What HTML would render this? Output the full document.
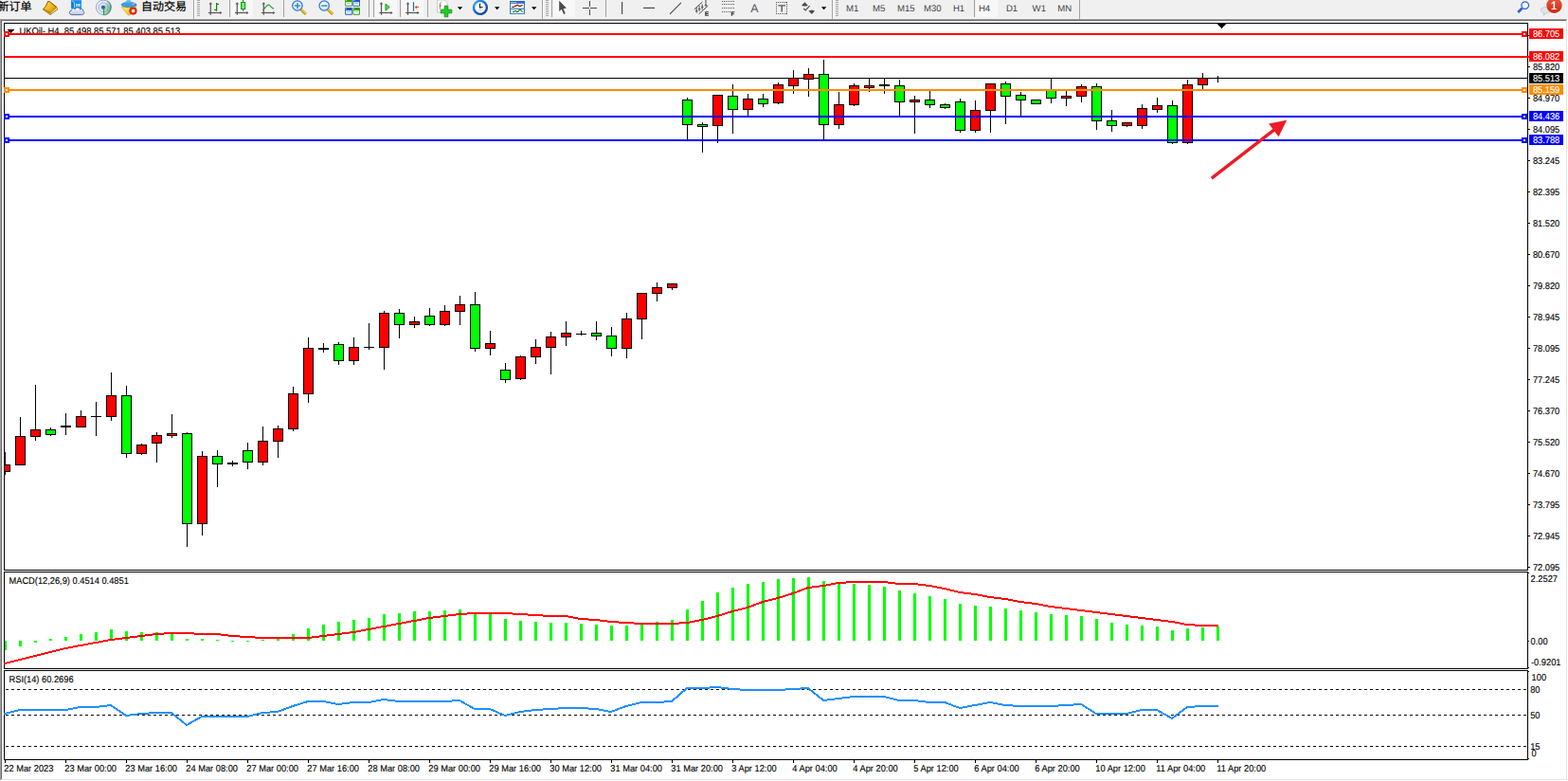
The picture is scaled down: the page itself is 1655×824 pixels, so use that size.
<!DOCTYPE html><html><head><meta charset="utf-8"><title>UKOil H4</title>
<style>html,body{margin:0;padding:0;background:#fff;overflow:hidden}body{width:1655px;height:824px;position:relative}svg{display:block;position:absolute;left:0;top:0}text{font-family:"Liberation Sans",sans-serif;white-space:pre;text-rendering:geometricPrecision}</style></head><body>
<svg width="1655" height="824" viewBox="0 0 1655 824">
<defs><pattern id="chk" width="2" height="2" patternUnits="userSpaceOnUse"><rect width="2" height="2" fill="#f0f0f0"/><rect width="1" height="1" fill="#fff"/><rect x="1" y="1" width="1" height="1" fill="#fff"/></pattern></defs>
<g shape-rendering="crispEdges">
<rect x="0" y="0" width="1655" height="824" fill="#fff" />
<rect x="0" y="0" width="1655" height="19" fill="#f0f0f0" />
<rect x="0" y="19" width="1655" height="1" fill="#f6f6f6" />
<rect x="0" y="20" width="1654" height="1" fill="#a0a0a0" />
<rect x="0" y="21" width="1653" height="1" fill="#696969" />
<rect x="0" y="20" width="1" height="803" fill="#a0a0a0" />
<rect x="1" y="21" width="1" height="801" fill="#696969" />
<rect x="1" y="822" width="1653" height="1" fill="#e3e3e3" />
<rect x="1653" y="21" width="1" height="802" fill="#e3e3e3" />
</g>
<g shape-rendering="crispEdges">
<rect x="4" y="24" width="1609" height="1" fill="#000" />
<rect x="4" y="601" width="1609" height="1" fill="#000" />
<rect x="4" y="24" width="1" height="578" fill="#000" />
<rect x="1612" y="24" width="1" height="578" fill="#000" />
<rect x="4" y="603" width="1609" height="1" fill="#000" />
<rect x="4" y="705" width="1609" height="1" fill="#000" />
<rect x="4" y="603" width="1" height="103" fill="#000" />
<rect x="1612" y="603" width="1" height="103" fill="#000" />
<rect x="4" y="707" width="1609" height="1" fill="#000" />
<rect x="4" y="801" width="1609" height="1" fill="#000" />
<rect x="4" y="707" width="1" height="95" fill="#000" />
<rect x="1612" y="707" width="1" height="95" fill="#000" />
<rect x="5" y="82" width="1607" height="1" fill="#000" />
<rect x="5" y="477" width="1" height="24" fill="#000" />
<rect x="5" y="490" width="6" height="8" fill="#000" />
<rect x="5" y="491" width="5" height="6" fill="#ff0000" />
<rect x="21" y="440" width="1" height="51" fill="#000" />
<rect x="16" y="460" width="11" height="31" fill="#000" />
<rect x="17" y="461" width="9" height="29" fill="#ff0000" />
<rect x="37" y="406" width="1" height="59" fill="#000" />
<rect x="32" y="453" width="11" height="8" fill="#000" />
<rect x="33" y="454" width="9" height="6" fill="#ff0000" />
<rect x="53" y="451" width="1" height="9" fill="#000" />
<rect x="48" y="453" width="11" height="6" fill="#000" />
<rect x="49" y="454" width="9" height="4" fill="#00ff00" />
<rect x="69" y="436" width="1" height="23" fill="#000" />
<rect x="64" y="449" width="11" height="2" fill="#000" />
<rect x="85" y="433" width="1" height="18" fill="#000" />
<rect x="80" y="439" width="11" height="12" fill="#000" />
<rect x="81" y="440" width="9" height="10" fill="#ff0000" />
<rect x="101" y="424" width="1" height="36" fill="#000" />
<rect x="96" y="439" width="11" height="1" fill="#000" />
<rect x="117" y="393" width="1" height="51" fill="#000" />
<rect x="112" y="417" width="11" height="23" fill="#000" />
<rect x="113" y="418" width="9" height="21" fill="#ff0000" />
<rect x="133" y="407" width="1" height="76" fill="#000" />
<rect x="128" y="417" width="11" height="62" fill="#000" />
<rect x="129" y="418" width="9" height="60" fill="#00ff00" />
<rect x="149" y="468" width="1" height="12" fill="#000" />
<rect x="144" y="469" width="11" height="10" fill="#000" />
<rect x="145" y="470" width="9" height="8" fill="#ff0000" />
<rect x="165" y="456" width="1" height="32" fill="#000" />
<rect x="160" y="459" width="11" height="9" fill="#000" />
<rect x="161" y="460" width="9" height="7" fill="#ff0000" />
<rect x="181" y="437" width="1" height="25" fill="#000" />
<rect x="176" y="457" width="11" height="3" fill="#000" />
<rect x="177" y="458" width="9" height="1" fill="#ff0000" />
<rect x="197" y="456" width="1" height="121" fill="#000" />
<rect x="192" y="457" width="11" height="96" fill="#000" />
<rect x="193" y="458" width="9" height="94" fill="#00ff00" />
<rect x="213" y="476" width="1" height="89" fill="#000" />
<rect x="208" y="481" width="11" height="72" fill="#000" />
<rect x="209" y="482" width="9" height="70" fill="#ff0000" />
<rect x="229" y="475" width="1" height="39" fill="#000" />
<rect x="224" y="481" width="11" height="9" fill="#000" />
<rect x="225" y="482" width="9" height="7" fill="#00ff00" />
<rect x="245" y="486" width="1" height="6" fill="#000" />
<rect x="240" y="488" width="11" height="2" fill="#000" />
<rect x="261" y="467" width="1" height="28" fill="#000" />
<rect x="256" y="475" width="11" height="13" fill="#000" />
<rect x="257" y="476" width="9" height="11" fill="#00ff00" />
<rect x="277" y="450" width="1" height="41" fill="#000" />
<rect x="272" y="465" width="11" height="23" fill="#000" />
<rect x="273" y="466" width="9" height="21" fill="#ff0000" />
<rect x="293" y="449" width="1" height="34" fill="#000" />
<rect x="288" y="452" width="11" height="14" fill="#000" />
<rect x="289" y="453" width="9" height="12" fill="#ff0000" />
<rect x="309" y="408" width="1" height="47" fill="#000" />
<rect x="304" y="415" width="11" height="38" fill="#000" />
<rect x="305" y="416" width="9" height="36" fill="#ff0000" />
<rect x="325" y="356" width="1" height="69" fill="#000" />
<rect x="320" y="367" width="11" height="49" fill="#000" />
<rect x="321" y="368" width="9" height="47" fill="#ff0000" />
<rect x="341" y="362" width="1" height="10" fill="#000" />
<rect x="336" y="367" width="11" height="2" fill="#000" />
<rect x="357" y="361" width="1" height="24" fill="#000" />
<rect x="352" y="363" width="11" height="18" fill="#000" />
<rect x="353" y="364" width="9" height="16" fill="#00ff00" />
<rect x="373" y="356" width="1" height="29" fill="#000" />
<rect x="368" y="366" width="11" height="15" fill="#000" />
<rect x="369" y="367" width="9" height="13" fill="#ff0000" />
<rect x="389" y="341" width="1" height="28" fill="#000" />
<rect x="384" y="366" width="11" height="1" fill="#000" />
<rect x="405" y="328" width="1" height="62" fill="#000" />
<rect x="400" y="330" width="11" height="37" fill="#000" />
<rect x="401" y="331" width="9" height="35" fill="#ff0000" />
<rect x="421" y="326" width="1" height="31" fill="#000" />
<rect x="416" y="330" width="11" height="13" fill="#000" />
<rect x="417" y="331" width="9" height="11" fill="#00ff00" />
<rect x="437" y="334" width="1" height="12" fill="#000" />
<rect x="432" y="339" width="11" height="4" fill="#000" />
<rect x="433" y="340" width="9" height="2" fill="#ff0000" />
<rect x="453" y="325" width="1" height="19" fill="#000" />
<rect x="448" y="333" width="11" height="10" fill="#000" />
<rect x="449" y="334" width="9" height="8" fill="#00ff00" />
<rect x="469" y="322" width="1" height="22" fill="#000" />
<rect x="464" y="328" width="11" height="15" fill="#000" />
<rect x="465" y="329" width="9" height="13" fill="#ff0000" />
<rect x="485" y="312" width="1" height="31" fill="#000" />
<rect x="480" y="321" width="11" height="8" fill="#000" />
<rect x="481" y="322" width="9" height="6" fill="#ff0000" />
<rect x="501" y="308" width="1" height="63" fill="#000" />
<rect x="496" y="321" width="11" height="47" fill="#000" />
<rect x="497" y="322" width="9" height="45" fill="#00ff00" />
<rect x="517" y="349" width="1" height="26" fill="#000" />
<rect x="512" y="362" width="11" height="6" fill="#000" />
<rect x="513" y="363" width="9" height="4" fill="#ff0000" />
<rect x="533" y="383" width="1" height="21" fill="#000" />
<rect x="528" y="390" width="11" height="11" fill="#000" />
<rect x="529" y="391" width="9" height="9" fill="#00ff00" />
<rect x="549" y="375" width="1" height="26" fill="#000" />
<rect x="544" y="376" width="11" height="24" fill="#000" />
<rect x="545" y="377" width="9" height="22" fill="#ff0000" />
<rect x="565" y="358" width="1" height="26" fill="#000" />
<rect x="560" y="366" width="11" height="11" fill="#000" />
<rect x="561" y="367" width="9" height="9" fill="#ff0000" />
<rect x="581" y="350" width="1" height="45" fill="#000" />
<rect x="576" y="355" width="11" height="12" fill="#000" />
<rect x="577" y="356" width="9" height="10" fill="#ff0000" />
<rect x="597" y="339" width="1" height="26" fill="#000" />
<rect x="592" y="351" width="11" height="5" fill="#000" />
<rect x="593" y="352" width="9" height="3" fill="#ff0000" />
<rect x="613" y="349" width="1" height="5" fill="#000" />
<rect x="608" y="352" width="11" height="1" fill="#000" />
<rect x="629" y="339" width="1" height="20" fill="#000" />
<rect x="624" y="351" width="11" height="4" fill="#000" />
<rect x="625" y="352" width="9" height="2" fill="#00ff00" />
<rect x="645" y="345" width="1" height="31" fill="#000" />
<rect x="640" y="354" width="11" height="14" fill="#000" />
<rect x="641" y="355" width="9" height="12" fill="#00ff00" />
<rect x="661" y="330" width="1" height="48" fill="#000" />
<rect x="656" y="336" width="11" height="32" fill="#000" />
<rect x="657" y="337" width="9" height="30" fill="#ff0000" />
<rect x="677" y="309" width="1" height="49" fill="#000" />
<rect x="672" y="309" width="11" height="28" fill="#000" />
<rect x="673" y="310" width="9" height="26" fill="#ff0000" />
<rect x="693" y="298" width="1" height="20" fill="#000" />
<rect x="688" y="303" width="11" height="7" fill="#000" />
<rect x="689" y="304" width="9" height="5" fill="#ff0000" />
<rect x="709" y="299" width="1" height="7" fill="#000" />
<rect x="704" y="299" width="11" height="5" fill="#000" />
<rect x="705" y="300" width="9" height="3" fill="#ff0000" />
<rect x="725" y="103" width="1" height="44" fill="#000" />
<rect x="720" y="105" width="11" height="27" fill="#000" />
<rect x="721" y="106" width="9" height="25" fill="#00ff00" />
<rect x="741" y="129" width="1" height="32" fill="#000" />
<rect x="736" y="131" width="11" height="3" fill="#000" />
<rect x="737" y="132" width="9" height="1" fill="#00ff00" />
<rect x="757" y="100" width="1" height="51" fill="#000" />
<rect x="752" y="100" width="11" height="33" fill="#000" />
<rect x="753" y="101" width="9" height="31" fill="#ff0000" />
<rect x="773" y="89" width="1" height="52" fill="#000" />
<rect x="768" y="101" width="11" height="15" fill="#000" />
<rect x="769" y="102" width="9" height="13" fill="#00ff00" />
<rect x="789" y="99" width="1" height="23" fill="#000" />
<rect x="784" y="104" width="11" height="12" fill="#000" />
<rect x="785" y="105" width="9" height="10" fill="#ff0000" />
<rect x="805" y="99" width="1" height="14" fill="#000" />
<rect x="800" y="104" width="11" height="6" fill="#000" />
<rect x="801" y="105" width="9" height="4" fill="#00ff00" />
<rect x="821" y="87" width="1" height="23" fill="#000" />
<rect x="816" y="89" width="11" height="20" fill="#000" />
<rect x="817" y="90" width="9" height="18" fill="#ff0000" />
<rect x="837" y="74" width="1" height="25" fill="#000" />
<rect x="832" y="82" width="11" height="9" fill="#000" />
<rect x="833" y="83" width="9" height="7" fill="#ff0000" />
<rect x="853" y="72" width="1" height="30" fill="#000" />
<rect x="848" y="78" width="11" height="6" fill="#000" />
<rect x="849" y="79" width="9" height="4" fill="#ff0000" />
<rect x="869" y="63" width="1" height="84" fill="#000" />
<rect x="864" y="78" width="11" height="54" fill="#000" />
<rect x="865" y="79" width="9" height="52" fill="#00ff00" />
<rect x="885" y="97" width="1" height="39" fill="#000" />
<rect x="880" y="110" width="11" height="22" fill="#000" />
<rect x="881" y="111" width="9" height="20" fill="#ff0000" />
<rect x="901" y="88" width="1" height="24" fill="#000" />
<rect x="896" y="90" width="11" height="21" fill="#000" />
<rect x="897" y="91" width="9" height="19" fill="#ff0000" />
<rect x="917" y="83" width="1" height="14" fill="#000" />
<rect x="912" y="90" width="11" height="3" fill="#000" />
<rect x="913" y="91" width="9" height="1" fill="#ff0000" />
<rect x="933" y="83" width="1" height="16" fill="#000" />
<rect x="928" y="89" width="11" height="2" fill="#000" />
<rect x="949" y="84" width="1" height="38" fill="#000" />
<rect x="944" y="90" width="11" height="18" fill="#000" />
<rect x="945" y="91" width="9" height="16" fill="#00ff00" />
<rect x="965" y="101" width="1" height="40" fill="#000" />
<rect x="960" y="105" width="11" height="3" fill="#000" />
<rect x="961" y="106" width="9" height="1" fill="#ff0000" />
<rect x="981" y="96" width="1" height="18" fill="#000" />
<rect x="976" y="105" width="11" height="6" fill="#000" />
<rect x="977" y="106" width="9" height="4" fill="#00ff00" />
<rect x="997" y="109" width="1" height="6" fill="#000" />
<rect x="992" y="110" width="11" height="4" fill="#000" />
<rect x="993" y="111" width="9" height="2" fill="#00ff00" />
<rect x="1013" y="104" width="1" height="36" fill="#000" />
<rect x="1008" y="107" width="11" height="31" fill="#000" />
<rect x="1009" y="108" width="9" height="29" fill="#00ff00" />
<rect x="1029" y="106" width="1" height="34" fill="#000" />
<rect x="1024" y="116" width="11" height="22" fill="#000" />
<rect x="1025" y="117" width="9" height="20" fill="#ff0000" />
<rect x="1045" y="88" width="1" height="52" fill="#000" />
<rect x="1040" y="88" width="11" height="29" fill="#000" />
<rect x="1041" y="89" width="9" height="27" fill="#ff0000" />
<rect x="1061" y="86" width="1" height="45" fill="#000" />
<rect x="1056" y="88" width="11" height="14" fill="#000" />
<rect x="1057" y="89" width="9" height="12" fill="#00ff00" />
<rect x="1077" y="97" width="1" height="25" fill="#000" />
<rect x="1072" y="100" width="11" height="6" fill="#000" />
<rect x="1073" y="101" width="9" height="4" fill="#00ff00" />
<rect x="1093" y="105" width="1" height="5" fill="#000" />
<rect x="1088" y="105" width="11" height="5" fill="#000" />
<rect x="1089" y="106" width="9" height="3" fill="#00ff00" />
<rect x="1109" y="83" width="1" height="26" fill="#000" />
<rect x="1104" y="94" width="11" height="10" fill="#000" />
<rect x="1105" y="95" width="9" height="8" fill="#00ff00" />
<rect x="1125" y="96" width="1" height="16" fill="#000" />
<rect x="1120" y="101" width="11" height="3" fill="#000" />
<rect x="1121" y="102" width="9" height="1" fill="#ff0000" />
<rect x="1141" y="89" width="1" height="19" fill="#000" />
<rect x="1136" y="91" width="11" height="11" fill="#000" />
<rect x="1137" y="92" width="9" height="9" fill="#ff0000" />
<rect x="1157" y="88" width="1" height="49" fill="#000" />
<rect x="1152" y="91" width="11" height="37" fill="#000" />
<rect x="1153" y="92" width="9" height="35" fill="#00ff00" />
<rect x="1173" y="116" width="1" height="23" fill="#000" />
<rect x="1168" y="127" width="11" height="6" fill="#000" />
<rect x="1169" y="128" width="9" height="4" fill="#00ff00" />
<rect x="1189" y="129" width="1" height="5" fill="#000" />
<rect x="1184" y="129" width="11" height="4" fill="#000" />
<rect x="1185" y="130" width="9" height="2" fill="#ff0000" />
<rect x="1205" y="110" width="1" height="26" fill="#000" />
<rect x="1200" y="114" width="11" height="19" fill="#000" />
<rect x="1201" y="115" width="9" height="17" fill="#ff0000" />
<rect x="1221" y="103" width="1" height="16" fill="#000" />
<rect x="1216" y="111" width="11" height="5" fill="#000" />
<rect x="1217" y="112" width="9" height="3" fill="#ff0000" />
<rect x="1237" y="106" width="1" height="46" fill="#000" />
<rect x="1232" y="111" width="11" height="40" fill="#000" />
<rect x="1233" y="112" width="9" height="38" fill="#00ff00" />
<rect x="1253" y="84" width="1" height="68" fill="#000" />
<rect x="1248" y="89" width="11" height="62" fill="#000" />
<rect x="1249" y="90" width="9" height="60" fill="#ff0000" />
<rect x="1269" y="77" width="1" height="17" fill="#000" />
<rect x="1264" y="82" width="11" height="8" fill="#000" />
<rect x="1265" y="83" width="9" height="6" fill="#ff0000" />
<rect x="1285" y="80" width="1" height="7" fill="#000" />
</g>
<g shape-rendering="crispEdges" fill="#000"><rect x="8" y="31" width="7" height="1"/><rect x="9" y="32" width="5" height="1"/><rect x="10" y="33" width="3" height="1"/><rect x="11" y="34" width="1" height="1"/></g>
<text transform="translate(20.4,36) scale(0.949,1)" font-size="9.9" fill="#000" stroke="#000" stroke-width="0.12" text-anchor="start" >UKOil-,H4  85.498 85.571 85.403 85.513</text>
<g shape-rendering="crispEdges">
<rect x="5" y="35" width="1607" height="2" fill="#ff0000" />
<rect x="4" y="33" width="6" height="6" fill="#ff0000" />
<rect x="6" y="35" width="2" height="2" fill="#fff" />
<rect x="1606" y="33" width="6" height="6" fill="#ff0000" />
<rect x="1608" y="35" width="2" height="2" fill="#fff" />
<rect x="5" y="59" width="1609" height="2" fill="#ff0000" />
<rect x="5" y="94" width="1607" height="2" fill="#ff8c00" />
<rect x="4" y="92" width="6" height="6" fill="#ff8c00" />
<rect x="6" y="94" width="2" height="2" fill="#fff" />
<rect x="1606" y="92" width="6" height="6" fill="#ff8c00" />
<rect x="1608" y="94" width="2" height="2" fill="#fff" />
<rect x="5" y="122" width="1607" height="2" fill="#0000ff" />
<rect x="4" y="120" width="6" height="6" fill="#0000ff" />
<rect x="6" y="122" width="2" height="2" fill="#fff" />
<rect x="1606" y="120" width="6" height="6" fill="#0000ff" />
<rect x="1608" y="122" width="2" height="2" fill="#fff" />
<rect x="5" y="147" width="1607" height="2" fill="#0000ff" />
<rect x="4" y="145" width="6" height="6" fill="#0000ff" />
<rect x="6" y="147" width="2" height="2" fill="#fff" />
<rect x="1606" y="145" width="6" height="6" fill="#0000ff" />
<rect x="1608" y="147" width="2" height="2" fill="#fff" />
</g>
<g fill="#ed1c24" stroke="none"><path d="M1277.76,186.86 L1343.31,136.0 L1339.1,130.4 L1358.2,126.7 L1349.6,144.3 L1345.39,138.69 L1279.84,189.55 Z"/></g>
<g shape-rendering="crispEdges" fill="#000"><rect x="1285" y="25" width="9" height="1"/><rect x="1286" y="26" width="7" height="1"/><rect x="1287" y="27" width="5" height="1"/><rect x="1288" y="28" width="3" height="1"/><rect x="1289" y="29" width="1" height="1"/></g>
<g shape-rendering="crispEdges">
<rect x="1613" y="37" width="2" height="1" fill="#000" />
<rect x="1613" y="70" width="2" height="1" fill="#000" />
<rect x="1613" y="103" width="2" height="1" fill="#000" />
<rect x="1613" y="136" width="2" height="1" fill="#000" />
<rect x="1613" y="169" width="2" height="1" fill="#000" />
<rect x="1613" y="202" width="2" height="1" fill="#000" />
<rect x="1613" y="235" width="2" height="1" fill="#000" />
<rect x="1613" y="268" width="2" height="1" fill="#000" />
<rect x="1613" y="301" width="2" height="1" fill="#000" />
<rect x="1613" y="334" width="2" height="1" fill="#000" />
<rect x="1613" y="367" width="2" height="1" fill="#000" />
<rect x="1613" y="400" width="2" height="1" fill="#000" />
<rect x="1613" y="433" width="2" height="1" fill="#000" />
<rect x="1613" y="466" width="2" height="1" fill="#000" />
<rect x="1613" y="499" width="2" height="1" fill="#000" />
<rect x="1613" y="532" width="2" height="1" fill="#000" />
<rect x="1613" y="565" width="2" height="1" fill="#000" />
<rect x="1613" y="598" width="2" height="1" fill="#000" />
</g>
<text transform="translate(1617.9,74) scale(0.939,1)" font-size="9.9" fill="#000" stroke="#000" stroke-width="0.12" text-anchor="start" >85.820</text>
<text transform="translate(1617.9,107) scale(0.939,1)" font-size="9.9" fill="#000" stroke="#000" stroke-width="0.12" text-anchor="start" >84.970</text>
<text transform="translate(1617.9,140) scale(0.939,1)" font-size="9.9" fill="#000" stroke="#000" stroke-width="0.12" text-anchor="start" >84.095</text>
<text transform="translate(1617.9,173) scale(0.939,1)" font-size="9.9" fill="#000" stroke="#000" stroke-width="0.12" text-anchor="start" >83.245</text>
<text transform="translate(1617.9,206) scale(0.939,1)" font-size="9.9" fill="#000" stroke="#000" stroke-width="0.12" text-anchor="start" >82.395</text>
<text transform="translate(1617.9,239) scale(0.939,1)" font-size="9.9" fill="#000" stroke="#000" stroke-width="0.12" text-anchor="start" >81.520</text>
<text transform="translate(1617.9,272) scale(0.939,1)" font-size="9.9" fill="#000" stroke="#000" stroke-width="0.12" text-anchor="start" >80.670</text>
<text transform="translate(1617.9,305) scale(0.939,1)" font-size="9.9" fill="#000" stroke="#000" stroke-width="0.12" text-anchor="start" >79.820</text>
<text transform="translate(1617.9,338) scale(0.939,1)" font-size="9.9" fill="#000" stroke="#000" stroke-width="0.12" text-anchor="start" >78.945</text>
<text transform="translate(1617.9,371) scale(0.939,1)" font-size="9.9" fill="#000" stroke="#000" stroke-width="0.12" text-anchor="start" >78.095</text>
<text transform="translate(1617.9,404) scale(0.939,1)" font-size="9.9" fill="#000" stroke="#000" stroke-width="0.12" text-anchor="start" >77.245</text>
<text transform="translate(1617.9,437) scale(0.939,1)" font-size="9.9" fill="#000" stroke="#000" stroke-width="0.12" text-anchor="start" >76.370</text>
<text transform="translate(1617.9,470) scale(0.939,1)" font-size="9.9" fill="#000" stroke="#000" stroke-width="0.12" text-anchor="start" >75.520</text>
<text transform="translate(1617.9,503) scale(0.939,1)" font-size="9.9" fill="#000" stroke="#000" stroke-width="0.12" text-anchor="start" >74.670</text>
<text transform="translate(1617.9,536) scale(0.939,1)" font-size="9.9" fill="#000" stroke="#000" stroke-width="0.12" text-anchor="start" >73.795</text>
<text transform="translate(1617.9,569) scale(0.939,1)" font-size="9.9" fill="#000" stroke="#000" stroke-width="0.12" text-anchor="start" >72.945</text>
<text transform="translate(1617.9,602) scale(0.939,1)" font-size="9.9" fill="#000" stroke="#000" stroke-width="0.12" text-anchor="start" >72.095</text>
<g shape-rendering="crispEdges">
<rect x="1614" y="30" width="36" height="11" fill="#ff0000" />
<rect x="1614" y="54" width="36" height="11" fill="#ff0000" />
<rect x="1614" y="77" width="36" height="11" fill="#000" />
<rect x="1614" y="89" width="36" height="11" fill="#ff8c00" />
<rect x="1614" y="117" width="36" height="11" fill="#0000ff" />
<rect x="1614" y="142" width="36" height="11" fill="#0000ff" />
</g>
<text transform="translate(1617.9,39) scale(0.939,1)" font-size="9.9" fill="#fff" stroke="#fff" stroke-width="0.12" text-anchor="start" >86.705</text>
<text transform="translate(1617.9,63) scale(0.939,1)" font-size="9.9" fill="#fff" stroke="#fff" stroke-width="0.12" text-anchor="start" >86.082</text>
<text transform="translate(1617.9,86) scale(0.939,1)" font-size="9.9" fill="#fff" stroke="#fff" stroke-width="0.12" text-anchor="start" >85.513</text>
<text transform="translate(1617.9,98) scale(0.939,1)" font-size="9.9" fill="#fff" stroke="#fff" stroke-width="0.12" text-anchor="start" >85.159</text>
<text transform="translate(1617.9,126) scale(0.939,1)" font-size="9.9" fill="#fff" stroke="#fff" stroke-width="0.12" text-anchor="start" >84.436</text>
<text transform="translate(1617.9,151) scale(0.939,1)" font-size="9.9" fill="#fff" stroke="#fff" stroke-width="0.12" text-anchor="start" >83.788</text>
<g shape-rendering="crispEdges">
<rect x="5" y="676" width="2" height="10" fill="#00ff00" />
<rect x="20" y="676" width="3" height="6" fill="#00ff00" />
<rect x="36" y="676" width="3" height="2" fill="#00ff00" />
<rect x="52" y="674" width="3" height="2" fill="#00ff00" />
<rect x="68" y="672" width="3" height="4" fill="#00ff00" />
<rect x="84" y="669" width="3" height="7" fill="#00ff00" />
<rect x="100" y="667" width="3" height="9" fill="#00ff00" />
<rect x="116" y="664" width="3" height="12" fill="#00ff00" />
<rect x="132" y="666" width="3" height="10" fill="#00ff00" />
<rect x="148" y="667" width="3" height="9" fill="#00ff00" />
<rect x="164" y="667" width="3" height="9" fill="#00ff00" />
<rect x="180" y="667" width="3" height="9" fill="#00ff00" />
<rect x="196" y="674" width="3" height="2" fill="#00ff00" />
<rect x="212" y="674" width="3" height="2" fill="#00ff00" />
<rect x="228" y="675" width="3" height="1" fill="#00ff00" />
<rect x="244" y="676" width="3" height="1" fill="#00ff00" />
<rect x="260" y="676" width="3" height="1" fill="#00ff00" />
<rect x="276" y="675" width="3" height="1" fill="#00ff00" />
<rect x="292" y="673" width="3" height="3" fill="#00ff00" />
<rect x="308" y="669" width="3" height="7" fill="#00ff00" />
<rect x="324" y="663" width="3" height="13" fill="#00ff00" />
<rect x="340" y="659" width="3" height="17" fill="#00ff00" />
<rect x="356" y="656" width="3" height="20" fill="#00ff00" />
<rect x="372" y="654" width="3" height="22" fill="#00ff00" />
<rect x="388" y="652" width="3" height="24" fill="#00ff00" />
<rect x="404" y="648" width="3" height="28" fill="#00ff00" />
<rect x="420" y="647" width="3" height="29" fill="#00ff00" />
<rect x="436" y="645" width="3" height="31" fill="#00ff00" />
<rect x="452" y="645" width="3" height="31" fill="#00ff00" />
<rect x="468" y="644" width="3" height="32" fill="#00ff00" />
<rect x="484" y="643" width="3" height="33" fill="#00ff00" />
<rect x="500" y="646" width="3" height="30" fill="#00ff00" />
<rect x="516" y="648" width="3" height="28" fill="#00ff00" />
<rect x="532" y="653" width="3" height="23" fill="#00ff00" />
<rect x="548" y="655" width="3" height="21" fill="#00ff00" />
<rect x="564" y="656" width="3" height="20" fill="#00ff00" />
<rect x="580" y="657" width="3" height="19" fill="#00ff00" />
<rect x="596" y="657" width="3" height="19" fill="#00ff00" />
<rect x="612" y="658" width="3" height="18" fill="#00ff00" />
<rect x="628" y="659" width="3" height="17" fill="#00ff00" />
<rect x="644" y="660" width="3" height="16" fill="#00ff00" />
<rect x="660" y="660" width="3" height="16" fill="#00ff00" />
<rect x="676" y="658" width="3" height="18" fill="#00ff00" />
<rect x="692" y="656" width="3" height="20" fill="#00ff00" />
<rect x="708" y="654" width="3" height="22" fill="#00ff00" />
<rect x="724" y="643" width="3" height="33" fill="#00ff00" />
<rect x="740" y="634" width="3" height="42" fill="#00ff00" />
<rect x="756" y="625" width="3" height="51" fill="#00ff00" />
<rect x="772" y="620" width="3" height="56" fill="#00ff00" />
<rect x="788" y="616" width="3" height="60" fill="#00ff00" />
<rect x="804" y="614" width="3" height="62" fill="#00ff00" />
<rect x="820" y="611" width="3" height="65" fill="#00ff00" />
<rect x="836" y="610" width="3" height="66" fill="#00ff00" />
<rect x="852" y="609" width="3" height="67" fill="#00ff00" />
<rect x="868" y="613" width="3" height="63" fill="#00ff00" />
<rect x="884" y="615" width="3" height="61" fill="#00ff00" />
<rect x="900" y="616" width="3" height="60" fill="#00ff00" />
<rect x="916" y="617" width="3" height="59" fill="#00ff00" />
<rect x="932" y="619" width="3" height="57" fill="#00ff00" />
<rect x="948" y="623" width="3" height="53" fill="#00ff00" />
<rect x="964" y="626" width="3" height="50" fill="#00ff00" />
<rect x="980" y="629" width="3" height="47" fill="#00ff00" />
<rect x="996" y="632" width="3" height="44" fill="#00ff00" />
<rect x="1012" y="637" width="3" height="39" fill="#00ff00" />
<rect x="1028" y="639" width="3" height="37" fill="#00ff00" />
<rect x="1044" y="640" width="3" height="36" fill="#00ff00" />
<rect x="1060" y="642" width="3" height="34" fill="#00ff00" />
<rect x="1076" y="644" width="3" height="32" fill="#00ff00" />
<rect x="1092" y="646" width="3" height="30" fill="#00ff00" />
<rect x="1108" y="648" width="3" height="28" fill="#00ff00" />
<rect x="1124" y="649" width="3" height="27" fill="#00ff00" />
<rect x="1140" y="650" width="3" height="26" fill="#00ff00" />
<rect x="1156" y="653" width="3" height="23" fill="#00ff00" />
<rect x="1172" y="657" width="3" height="19" fill="#00ff00" />
<rect x="1188" y="659" width="3" height="17" fill="#00ff00" />
<rect x="1204" y="660" width="3" height="16" fill="#00ff00" />
<rect x="1220" y="661" width="3" height="15" fill="#00ff00" />
<rect x="1236" y="665" width="3" height="11" fill="#00ff00" />
<rect x="1252" y="663" width="3" height="13" fill="#00ff00" />
<rect x="1268" y="662" width="3" height="14" fill="#00ff00" />
<rect x="1284" y="661" width="3" height="15" fill="#00ff00" />
<rect x="1613" y="604" width="1" height="1" fill="#000" />
<rect x="1613" y="676" width="1" height="1" fill="#000" />
<rect x="1613" y="704" width="1" height="1" fill="#000" />
</g>
<polyline points="5,700 21,696 37,692 53,688 69,684 85,681 101,678 117,675 133,673 149,671 165,669 181,668 197,668 213,669 229,669 245,671 261,672 277,673 293,673 309,673 325,673 341,671 357,669 373,667 389,664 405,661 421,658 437,655 453,652 469,650 485,648 501,647 517,647 533,647 549,648 565,649 581,650 597,650 613,653 629,654 645,656 661,657 677,658 693,658 709,658 725,657 741,654 757,650 773,645 789,641 805,635 821,631 837,626 853,620 869,618 885,615 901,614 917,614 933,614 949,616 965,616 981,618 997,621 1013,625 1029,627 1045,630 1061,632 1077,635 1093,637 1109,640 1125,642 1141,644 1157,646 1173,648 1189,650 1205,652 1221,654 1237,656 1253,659 1269,660 1285,660" fill="none" stroke="#ff0000" stroke-width="2" stroke-linejoin="round" stroke-linecap="square" shape-rendering="crispEdges"/>
<text transform="translate(9.5,616) scale(0.939,1)" font-size="9.9" fill="#000" stroke="#000" stroke-width="0.12" text-anchor="start" >MACD(12,26,9) 0.4514 0.4851</text>
<text transform="translate(1615.6,614) scale(0.939,1)" font-size="9.9" fill="#000" stroke="#000" stroke-width="0.12" text-anchor="start" >2.2527</text>
<text transform="translate(1615.6,680) scale(0.939,1)" font-size="9.9" fill="#000" stroke="#000" stroke-width="0.12" text-anchor="start" >0.00</text>
<text transform="translate(1616,702) scale(0.939,1)" font-size="9.9" fill="#000" stroke="#000" stroke-width="0.12" text-anchor="start" >-0.9201</text>
<g shape-rendering="crispEdges">
<line x1="6" y1="727.5" x2="1612" y2="727.5" stroke="#000" stroke-width="1" stroke-dasharray="3 3"/>
<line x1="6" y1="754.5" x2="1612" y2="754.5" stroke="#000" stroke-width="1" stroke-dasharray="3 3"/>
<line x1="6" y1="787.5" x2="1612" y2="787.5" stroke="#000" stroke-width="1" stroke-dasharray="3 3"/>
<rect x="1613" y="708" width="1" height="1" fill="#000" />
<rect x="1613" y="800" width="1" height="1" fill="#000" />
</g>
<polyline points="5,753 21,749 37,749 53,749 69,749 85,746 101,746 117,744 133,755 149,753 165,752 181,752 197,765 213,756 229,756 245,756 261,756 277,752 293,751 309,745 325,740 341,740 357,743 373,741 389,741 405,738 421,740 437,740 453,740 469,740 485,739 501,748 517,748 533,755 549,751 565,749 581,748 597,747 613,747 629,748 645,751 661,745 677,741 693,741 709,740 725,726 741,726 757,725 773,727 789,728 805,728 821,728 837,727 853,726 869,739 885,737 901,735 917,735 933,735 949,739 965,739 981,741 997,741 1013,747 1029,744 1045,741 1061,744 1077,745 1093,745 1109,745 1125,744 1141,743 1157,753 1173,753 1189,753 1205,749 1221,749 1237,758 1253,746 1269,745 1285,745" fill="none" stroke="#1e90ff" stroke-width="2" stroke-linejoin="round" stroke-linecap="square" shape-rendering="crispEdges"/>
<text transform="translate(9.5,720) scale(0.939,1)" font-size="9.9" fill="#000" stroke="#000" stroke-width="0.12" text-anchor="start" >RSI(14) 60.2696</text>
<text transform="translate(1616.6,718) scale(0.939,1)" font-size="9.9" fill="#000" stroke="#000" stroke-width="0.12" text-anchor="start" >100</text>
<text transform="translate(1615.2,731) scale(0.939,1)" font-size="9.9" fill="#000" stroke="#000" stroke-width="0.12" text-anchor="start" >80</text>
<text transform="translate(1615.2,758) scale(0.939,1)" font-size="9.9" fill="#000" stroke="#000" stroke-width="0.12" text-anchor="start" >50</text>
<text transform="translate(1615.2,791) scale(0.939,1)" font-size="9.9" fill="#000" stroke="#000" stroke-width="0.12" text-anchor="start" >15</text>
<text transform="translate(1616.6,798) scale(0.939,1)" font-size="9.9" fill="#000" stroke="#000" stroke-width="0.12" text-anchor="start" >0</text>
<g shape-rendering="crispEdges">
<rect x="5" y="802" width="1" height="3" fill="#000" />
<rect x="69" y="802" width="1" height="3" fill="#000" />
<rect x="133" y="802" width="1" height="3" fill="#000" />
<rect x="197" y="802" width="1" height="3" fill="#000" />
<rect x="261" y="802" width="1" height="3" fill="#000" />
<rect x="325" y="802" width="1" height="3" fill="#000" />
<rect x="389" y="802" width="1" height="3" fill="#000" />
<rect x="453" y="802" width="1" height="3" fill="#000" />
<rect x="517" y="802" width="1" height="3" fill="#000" />
<rect x="581" y="802" width="1" height="3" fill="#000" />
<rect x="645" y="802" width="1" height="3" fill="#000" />
<rect x="709" y="802" width="1" height="3" fill="#000" />
<rect x="773" y="802" width="1" height="3" fill="#000" />
<rect x="837" y="802" width="1" height="3" fill="#000" />
<rect x="901" y="802" width="1" height="3" fill="#000" />
<rect x="965" y="802" width="1" height="3" fill="#000" />
<rect x="1029" y="802" width="1" height="3" fill="#000" />
<rect x="1093" y="802" width="1" height="3" fill="#000" />
<rect x="1157" y="802" width="1" height="3" fill="#000" />
<rect x="1221" y="802" width="1" height="3" fill="#000" />
<rect x="1285" y="802" width="1" height="3" fill="#000" />
</g>
<text transform="translate(4.3,814) scale(0.939,1)" font-size="9.9" fill="#000" stroke="#000" stroke-width="0.12" text-anchor="start" >22 Mar 2023</text>
<text transform="translate(68.3,814) scale(0.939,1)" font-size="9.9" fill="#000" stroke="#000" stroke-width="0.12" text-anchor="start" >23 Mar 00:00</text>
<text transform="translate(132.3,814) scale(0.939,1)" font-size="9.9" fill="#000" stroke="#000" stroke-width="0.12" text-anchor="start" >23 Mar 16:00</text>
<text transform="translate(196.3,814) scale(0.939,1)" font-size="9.9" fill="#000" stroke="#000" stroke-width="0.12" text-anchor="start" >24 Mar 08:00</text>
<text transform="translate(260.3,814) scale(0.939,1)" font-size="9.9" fill="#000" stroke="#000" stroke-width="0.12" text-anchor="start" >27 Mar 00:00</text>
<text transform="translate(324.3,814) scale(0.939,1)" font-size="9.9" fill="#000" stroke="#000" stroke-width="0.12" text-anchor="start" >27 Mar 16:00</text>
<text transform="translate(388.3,814) scale(0.939,1)" font-size="9.9" fill="#000" stroke="#000" stroke-width="0.12" text-anchor="start" >28 Mar 08:00</text>
<text transform="translate(452.3,814) scale(0.939,1)" font-size="9.9" fill="#000" stroke="#000" stroke-width="0.12" text-anchor="start" >29 Mar 00:00</text>
<text transform="translate(516.3,814) scale(0.939,1)" font-size="9.9" fill="#000" stroke="#000" stroke-width="0.12" text-anchor="start" >29 Mar 16:00</text>
<text transform="translate(580.3,814) scale(0.939,1)" font-size="9.9" fill="#000" stroke="#000" stroke-width="0.12" text-anchor="start" >30 Mar 12:00</text>
<text transform="translate(644.3,814) scale(0.939,1)" font-size="9.9" fill="#000" stroke="#000" stroke-width="0.12" text-anchor="start" >31 Mar 04:00</text>
<text transform="translate(708.3,814) scale(0.939,1)" font-size="9.9" fill="#000" stroke="#000" stroke-width="0.12" text-anchor="start" >31 Mar 20:00</text>
<text transform="translate(772.3,814) scale(0.939,1)" font-size="9.9" fill="#000" stroke="#000" stroke-width="0.12" text-anchor="start" >3 Apr 12:00</text>
<text transform="translate(836.3,814) scale(0.939,1)" font-size="9.9" fill="#000" stroke="#000" stroke-width="0.12" text-anchor="start" >4 Apr 04:00</text>
<text transform="translate(900.3,814) scale(0.939,1)" font-size="9.9" fill="#000" stroke="#000" stroke-width="0.12" text-anchor="start" >4 Apr 20:00</text>
<text transform="translate(964.3,814) scale(0.939,1)" font-size="9.9" fill="#000" stroke="#000" stroke-width="0.12" text-anchor="start" >5 Apr 12:00</text>
<text transform="translate(1028.3,814) scale(0.939,1)" font-size="9.9" fill="#000" stroke="#000" stroke-width="0.12" text-anchor="start" >6 Apr 04:00</text>
<text transform="translate(1092.3,814) scale(0.939,1)" font-size="9.9" fill="#000" stroke="#000" stroke-width="0.12" text-anchor="start" >6 Apr 20:00</text>
<text transform="translate(1156.3,814) scale(0.939,1)" font-size="9.9" fill="#000" stroke="#000" stroke-width="0.12" text-anchor="start" >10 Apr 12:00</text>
<text transform="translate(1220.3,814) scale(0.939,1)" font-size="9.9" fill="#000" stroke="#000" stroke-width="0.12" text-anchor="start" >11 Apr 04:00</text>
<text transform="translate(1284.3,814) scale(0.939,1)" font-size="9.9" fill="#000" stroke="#000" stroke-width="0.12" text-anchor="start" >11 Apr 20:00</text>
<defs><linearGradient id="gold" x1="0" y1="0" x2="1" y2="1"><stop offset="0" stop-color="#ffe24a"/><stop offset="0.55" stop-color="#e9b91c"/><stop offset="1" stop-color="#b97d12"/></linearGradient><linearGradient id="blu" x1="0" y1="0" x2="0" y2="1"><stop offset="0" stop-color="#3aa0ff"/><stop offset="1" stop-color="#0a5fd8"/></linearGradient><linearGradient id="cld" x1="0" y1="0" x2="0" y2="1"><stop offset="0" stop-color="#ffffff"/><stop offset="1" stop-color="#b9c7e0"/></linearGradient><linearGradient id="grn" x1="0" y1="0" x2="1" y2="0"><stop offset="0" stop-color="#22c322"/><stop offset="0.5" stop-color="#8dff8d"/><stop offset="1" stop-color="#22c322"/></linearGradient><radialGradient id="lens" cx="0.4" cy="0.35" r="0.7"><stop offset="0" stop-color="#ffffff"/><stop offset="1" stop-color="#bfe6fa"/></radialGradient><linearGradient id="redb" x1="0" y1="0" x2="0" y2="1"><stop offset="0" stop-color="#e8583a"/><stop offset="1" stop-color="#cf2a14"/></linearGradient><linearGradient id="hat" x1="0" y1="0" x2="0" y2="1"><stop offset="0" stop-color="#7fd0f5"/><stop offset="1" stop-color="#3a8fd0"/></linearGradient><linearGradient id="face" x1="0" y1="0" x2="1" y2="1"><stop offset="0" stop-color="#fff27a"/><stop offset="1" stop-color="#e8b020"/></linearGradient><clipPath id="tbclip"><rect x="0" y="0" width="1655" height="20"/></clipPath></defs>
<g clip-path="url(#tbclip)">
<text x="-2.6" y="11.3" font-size="12" fill="#000" stroke="#000" stroke-width="0.2" style="font-family:'Liberation Sans','Noto Sans CJK SC',sans-serif">新订单</text>
<text x="148.9" y="11.3" font-size="12" fill="#000" stroke="#000" stroke-width="0.2" style="font-family:'Liberation Sans','Noto Sans CJK SC',sans-serif">自动交易</text>
<path d="M50.3,1 L52.3,1 L59.9,7.1 L61.2,9.9 L53.1,16 L44.8,9.9 Q48.7,6.6 50.3,1 Z" fill="#a8640a"/>
<path d="M59.7,7.9 L60.5,9.7 L53.4,15 L53.7,13.3 Z" fill="#e6d48a"/>
<path d="M51.1,2.1 L51.9,2.1 L58.9,7.7 L53.7,13.2 L46.6,9.5 Q49.6,6.6 51.1,2.1 Z" fill="url(#gold)"/>
<path d="M46,10.3 L53.3,14.4 L53.1,15 L46.2,10.8 Z" fill="#f6d666"/>
<path d="M75.2,0 L86,0 L86,9.4 L78.4,9.4 L75.2,8.6 Z" fill="#1093f5"/>
<path d="M75.2,0 L86,0 L86,0.8 L76.4,0.8 Z" fill="#7c8fdc"/>
<path d="M75.2,1 L78.4,2.6 L78.4,9.4 L75.2,8.6 Z" fill="#0a80ea"/>
<path d="M76.2,1 L78.5,2.9 L78.5,8.4" fill="none" stroke="#e8f6ff" stroke-width="0.7"/>
<rect x="80.1" y="4.2" width="4.6" height="1.7" fill="#e8f6ff"/><rect x="80.6" y="4.8" width="2.8" height="0.6" fill="#2a90f0"/><rect x="80.1" y="6.4" width="4.6" height="0.7" fill="#cfeaff"/>
<path d="M76,15.6 C72.6,15.6 72.4,11.6 75.2,11.2 C75.2,8.6 78.4,8.2 79.2,9.8 C80.2,7.2 84.4,7.4 84.6,10.2 C86.2,8.6 88.2,9.8 87.6,11.8 C89.6,12.2 89.2,15.6 86.4,15.6 Z" fill="url(#cld)" stroke="#45629e" stroke-width="0.9"/>
<defs><linearGradient id="sg" x1="0" y1="0" x2="1" y2="0.6"><stop offset="0" stop-color="#e4f2dc"/><stop offset="0.55" stop-color="#a8d8a0"/><stop offset="1" stop-color="#2f9a3a"/></linearGradient></defs>
<path d="M109.5,7.8 L109.5,16 A8.2,8.2 0 0 0 113.4,0.8 Z" fill="url(#sg)" opacity="0.8"/>
<path d="M113.4,0.8 A8.2,8.2 0 0 1 109.5,16" fill="none" stroke="#3a7a6a" stroke-width="0.8" opacity="0.7"/>
<g fill="none" stroke="#4a72dc"><circle cx="109.1" cy="7.8" r="7.7" stroke-width="1" opacity="0.6"/><circle cx="109.1" cy="7.8" r="5" stroke-width="1" opacity="0.55"/><circle cx="109.1" cy="7.8" r="2.9" stroke-width="0.8" opacity="0.35"/></g>
<circle cx="109" cy="7.7" r="2" fill="#2352d4"/>
<rect x="109" y="8" width="1.1" height="8" fill="#18a818"/>
<path d="M128.3,7.4 L144,6.4 L137.2,15.8 L135,15.8 Z" fill="url(#face)" stroke="#d6a012" stroke-width="0.7" stroke-linejoin="round"/>
<ellipse cx="136.1" cy="5" rx="8" ry="2.6" fill="#3f9fdc" stroke="#1f7fb8" stroke-width="0.7"/>
<path d="M132.3,4.6 C132.3,2 133.4,0.2 134.6,-0.6 L136.6,-0.6 C137.8,0.2 138.9,2 138.9,4.6 C137,5.6 134.2,5.6 132.3,4.6 Z" fill="url(#hat)"/>
<path d="M139.6,4.6 L142.6,3.2" stroke="#bfe6fa" stroke-width="0.8"/>
<circle cx="140.5" cy="11.6" r="4.1" fill="#c21c08"/><circle cx="140.5" cy="11.6" r="3.3" fill="#ee3210"/><rect x="139.1" y="10.1" width="3" height="3" fill="#fff"/>
<rect x="204" y="0" width="1" height="20" fill="#a0a0a0" shape-rendering="crispEdges"/><rect x="205" y="0" width="1" height="20" fill="#fff" shape-rendering="crispEdges"/>
<rect x="208" y="0" width="3" height="1" fill="#a6a6a6" shape-rendering="crispEdges"/>
<rect x="208" y="2" width="3" height="1" fill="#a6a6a6" shape-rendering="crispEdges"/>
<rect x="208" y="4" width="3" height="1" fill="#a6a6a6" shape-rendering="crispEdges"/>
<rect x="208" y="6" width="3" height="1" fill="#a6a6a6" shape-rendering="crispEdges"/>
<rect x="208" y="8" width="3" height="1" fill="#a6a6a6" shape-rendering="crispEdges"/>
<rect x="208" y="10" width="3" height="1" fill="#a6a6a6" shape-rendering="crispEdges"/>
<rect x="208" y="12" width="3" height="1" fill="#a6a6a6" shape-rendering="crispEdges"/>
<rect x="208" y="14" width="3" height="1" fill="#a6a6a6" shape-rendering="crispEdges"/>
<rect x="208" y="16" width="3" height="1" fill="#a6a6a6" shape-rendering="crispEdges"/>
<g stroke="#555" stroke-width="1.2" fill="#555"><line x1="222.3" y1="3" x2="222.3" y2="15.8"/><line x1="220.0" y1="13.5" x2="232.8" y2="13.5"/></g>
<path d="M220.5,4.4 L222.3,2.2 L224.10000000000002,4.4 Z M232.3,11.7 L234.3,13.5 L232.3,15.3 Z" fill="#555"/>
<g stroke="#0a8a0a" stroke-width="1.2" fill="none"><line x1="228.6" y1="3" x2="228.6" y2="11.8"/><line x1="228.6" y1="4.4" x2="231" y2="4.4"/><line x1="226.2" y1="10.4" x2="228.6" y2="10.4"/></g>
<rect x="242" y="0" width="1" height="18" fill="#a0a0a0" shape-rendering="crispEdges"/>
<rect x="243.5" y="0" width="23" height="18" fill="url(#chk)" shape-rendering="crispEdges"/>
<g stroke="#555" stroke-width="1.2" fill="#555"><line x1="250.3" y1="3" x2="250.3" y2="15.8"/><line x1="248.0" y1="13.5" x2="260.8" y2="13.5"/></g>
<path d="M248.5,4.4 L250.3,2.2 L252.10000000000002,4.4 Z M260.3,11.7 L262.3,13.5 L260.3,15.3 Z" fill="#555"/>
<rect x="256.1" y="0" width="1.1" height="11.8" fill="#0a8a0a"/><rect x="254.5" y="2.4" width="4.3" height="7.2" fill="url(#grn)" stroke="#0a8a0a" stroke-width="0.8"/>
<g stroke="#555" stroke-width="1.2" fill="#555"><line x1="278.3" y1="3" x2="278.3" y2="15.8"/><line x1="276.0" y1="13.5" x2="288.8" y2="13.5"/></g>
<path d="M276.5,4.4 L278.3,2.2 L280.1,4.4 Z M288.3,11.7 L290.3,13.5 L288.3,15.3 Z" fill="#555"/>
<path d="M277.3,10.6 C280,9 281.2,5.2 283.4,5.2 C285.2,5.2 286.4,8.6 289,9.2" fill="none" stroke="#2a9a2a" stroke-width="1.2"/>
<rect x="299" y="0" width="1" height="18" fill="#a0a0a0" shape-rendering="crispEdges"/>
<line x1="317.7" y1="10" x2="322.9" y2="15" stroke="#b8900e" stroke-width="3" stroke-linecap="butt"/><line x1="318.09999999999997" y1="9.7" x2="323.2" y2="14.6" stroke="#f2d23a" stroke-width="1.4"/>
<circle cx="313.9" cy="6" r="5.2" fill="url(#lens)" stroke="#2f6fd0" stroke-width="1.2"/>
<rect x="310.9" y="5.3" width="6" height="1.5" fill="#3f86b8"/>
<rect x="313.15" y="3" width="1.5" height="6" fill="#3f86b8"/>
<line x1="346.0" y1="10" x2="351.2" y2="15" stroke="#b8900e" stroke-width="3" stroke-linecap="butt"/><line x1="346.4" y1="9.7" x2="351.5" y2="14.6" stroke="#f2d23a" stroke-width="1.4"/>
<circle cx="342.2" cy="6" r="5.2" fill="url(#lens)" stroke="#2f6fd0" stroke-width="1.2"/>
<rect x="339.2" y="5.3" width="6" height="1.5" fill="#3f86b8"/>
<rect x="364.2" y="-0.8" width="7.6" height="7.6" rx="0.8" fill="#2e9c12"/><rect x="365.09999999999997" y="2.2" width="5.8" height="3.6" fill="#fff"/><rect x="366.0" y="3.2" width="4" height="0.9" fill="#9ad884"/><rect x="365.09999999999997" y="0.09999999999999998" width="1" height="0.9" fill="#fff" opacity="0.8"/>
<rect x="372.4" y="-0.8" width="7.6" height="7.6" rx="0.8" fill="#1f55c8"/><rect x="373.29999999999995" y="2.2" width="5.8" height="3.6" fill="#fff"/><rect x="374.2" y="3.2" width="4" height="0.9" fill="#8fb0ee"/><rect x="373.29999999999995" y="0.09999999999999998" width="1" height="0.9" fill="#fff" opacity="0.8"/>
<rect x="364.2" y="8.1" width="7.6" height="7.6" rx="0.8" fill="#1f55c8"/><rect x="365.09999999999997" y="11.1" width="5.8" height="3.6" fill="#fff"/><rect x="366.0" y="12.1" width="4" height="0.9" fill="#8fb0ee"/><rect x="365.09999999999997" y="9.0" width="1" height="0.9" fill="#fff" opacity="0.8"/>
<rect x="372.4" y="8.1" width="7.6" height="7.6" rx="0.8" fill="#2e9c12"/><rect x="373.29999999999995" y="11.1" width="5.8" height="3.6" fill="#fff"/><rect x="374.2" y="12.1" width="4" height="0.9" fill="#9ad884"/><rect x="373.29999999999995" y="9.0" width="1" height="0.9" fill="#fff" opacity="0.8"/>
<rect x="389" y="0" width="1" height="18" fill="#a0a0a0" shape-rendering="crispEdges"/>
<rect x="394" y="0" width="1" height="18" fill="#a0a0a0" shape-rendering="crispEdges"/>
<rect x="395.5" y="0" width="23.5" height="18" fill="url(#chk)" shape-rendering="crispEdges"/>
<g stroke="#555" stroke-width="1.2" fill="#555"><line x1="402.5" y1="3" x2="402.5" y2="15.8"/><line x1="400.2" y1="13.5" x2="413.0" y2="13.5"/></g>
<path d="M400.7,4.4 L402.5,2.2 L404.3,4.4 Z M412.5,11.7 L414.5,13.5 L412.5,15.3 Z" fill="#555"/>
<path d="M407,4.2 L411.2,7.6 L407,11 Z" fill="#5fe05f" stroke="#0a9a0a" stroke-width="1"/>
<rect x="422" y="0" width="1" height="18" fill="#a0a0a0" shape-rendering="crispEdges"/>
<rect x="423.5" y="0" width="23.5" height="18" fill="url(#chk)" shape-rendering="crispEdges"/>
<g stroke="#555" stroke-width="1.2" fill="#555"><line x1="430.5" y1="3" x2="430.5" y2="15.8"/><line x1="428.2" y1="13.5" x2="441.0" y2="13.5"/></g>
<path d="M428.7,4.4 L430.5,2.2 L432.3,4.4 Z M440.5,11.7 L442.5,13.5 L440.5,15.3 Z" fill="#555"/>
<rect x="435.9" y="2.2" width="1.2" height="9.6" fill="#1a6fb0"/>
<path d="M437.4,7.6 L440.4,5.4 L440,7.1 L442,7.1 L442,8.1 L440,8.1 L440.4,9.8 Z" fill="#e85a10"/>
<rect x="451" y="0" width="1" height="18" fill="#a0a0a0" shape-rendering="crispEdges"/>
<path d="M461.6,0 L469.4,0 L472.2,2.8 L472.2,13.2 L461.6,13.2 Z" fill="#fbfbfb" stroke="#b8b8b8" stroke-width="0.7"/>
<path d="M466,2.6 C464.6,2.6 464.4,3.6 464.4,5 L464.4,9.6 M463.4,6 L466,6" fill="none" stroke="#6a5a3a" stroke-width="0.7"/>
<path d="M469.2,6.2 L472.8,6.2 L472.8,10.2 L476.8,10.2 L476.8,13.8 L472.8,13.8 L472.8,17.8 L469.2,17.8 L469.2,13.8 L465.2,13.8 L465.2,10.2 L469.2,10.2 Z" fill="#1fd01f" stroke="#0a8a0a" stroke-width="0.8"/>
<path d="M482.8,7.2 L488.2,7.2 L485.5,10.2 Z" fill="#000"/>
<defs><linearGradient id="clk" x1="0.15" y1="0.1" x2="0.85" y2="0.9"><stop offset="0" stop-color="#36a4f8"/><stop offset="0.45" stop-color="#0b68d2"/><stop offset="1" stop-color="#083f98"/></linearGradient></defs>
<rect x="504.8" y="-1" width="4.4" height="1.6" fill="#0a5fc4"/>
<circle cx="506.9" cy="7.9" r="8.1" fill="url(#clk)"/><circle cx="506.9" cy="7.9" r="5.8" fill="#fff"/>
<line x1="506.90" y1="3.50" x2="506.90" y2="2.60" stroke="#8a8a8a" stroke-width="0.6"/>
<line x1="509.10" y1="4.09" x2="509.55" y2="3.31" stroke="#8a8a8a" stroke-width="0.6"/>
<line x1="510.71" y1="5.70" x2="511.49" y2="5.25" stroke="#8a8a8a" stroke-width="0.6"/>
<line x1="511.30" y1="7.90" x2="512.20" y2="7.90" stroke="#8a8a8a" stroke-width="0.6"/>
<line x1="510.71" y1="10.10" x2="511.49" y2="10.55" stroke="#8a8a8a" stroke-width="0.6"/>
<line x1="509.10" y1="11.71" x2="509.55" y2="12.49" stroke="#8a8a8a" stroke-width="0.6"/>
<line x1="506.90" y1="12.30" x2="506.90" y2="13.20" stroke="#8a8a8a" stroke-width="0.6"/>
<line x1="504.70" y1="11.71" x2="504.25" y2="12.49" stroke="#8a8a8a" stroke-width="0.6"/>
<line x1="503.09" y1="10.10" x2="502.31" y2="10.55" stroke="#8a8a8a" stroke-width="0.6"/>
<line x1="502.50" y1="7.90" x2="501.60" y2="7.90" stroke="#8a8a8a" stroke-width="0.6"/>
<line x1="503.09" y1="5.70" x2="502.31" y2="5.25" stroke="#8a8a8a" stroke-width="0.6"/>
<line x1="504.70" y1="4.09" x2="504.25" y2="3.31" stroke="#8a8a8a" stroke-width="0.6"/>
<path d="M506.5,3.8 L506.5,8.1 L509.6,7.5" fill="none" stroke="#1a1a1a" stroke-width="1.1"/><rect x="506" y="10" width="1.8" height="0.7" fill="#5aa0f0"/>
<path d="M522,7.2 L527.4,7.2 L524.7,10.2 Z" fill="#000"/>
<rect x="538" y="1" width="16" height="13.9" fill="#3878c6"/><rect x="538" y="1" width="16" height="1.2" fill="#2a62b4"/><rect x="539" y="2.3" width="6" height="0.8" fill="#b4dcff"/><rect x="539.1" y="3.9" width="13.7" height="4.8" fill="#fff"/><rect x="539.1" y="9.9" width="13.7" height="4" fill="#fff"/>
<path d="M540.2,7.4 L542.2,7.4 L543.6,6.4 L544.6,6.4 L545.6,5.4 L546.6,5.4 L547.6,6.4 L549.6,6.4 L550.8,5.5 L551.8,5.5" fill="none" stroke="#8a1c00" stroke-width="1.1"/>
<path d="M541,12.5 L542.2,12.5 L543.4,11.5 L544.4,11.5 L545.6,12.5 L546.6,12.5 L548.4,10.4 L549.4,10.4 L551.6,12.6" fill="none" stroke="#0a8a1a" stroke-width="1.1"/>
<path d="M561,7.2 L566.4,7.2 L563.7,10.2 Z" fill="#000"/>
<rect x="572" y="0" width="1" height="20" fill="#a0a0a0" shape-rendering="crispEdges"/><rect x="573" y="0" width="1" height="20" fill="#fff" shape-rendering="crispEdges"/>
<rect x="576" y="0" width="3" height="1" fill="#a6a6a6" shape-rendering="crispEdges"/>
<rect x="576" y="2" width="3" height="1" fill="#a6a6a6" shape-rendering="crispEdges"/>
<rect x="576" y="4" width="3" height="1" fill="#a6a6a6" shape-rendering="crispEdges"/>
<rect x="576" y="6" width="3" height="1" fill="#a6a6a6" shape-rendering="crispEdges"/>
<rect x="576" y="8" width="3" height="1" fill="#a6a6a6" shape-rendering="crispEdges"/>
<rect x="576" y="10" width="3" height="1" fill="#a6a6a6" shape-rendering="crispEdges"/>
<rect x="576" y="12" width="3" height="1" fill="#a6a6a6" shape-rendering="crispEdges"/>
<rect x="576" y="14" width="3" height="1" fill="#a6a6a6" shape-rendering="crispEdges"/>
<rect x="576" y="16" width="3" height="1" fill="#a6a6a6" shape-rendering="crispEdges"/>
<rect x="582" y="0" width="1" height="18" fill="#a0a0a0" shape-rendering="crispEdges"/>
<rect x="583.5" y="0" width="23.5" height="18" fill="url(#chk)" shape-rendering="crispEdges"/>
<path d="M590.2,0.8 L590.2,12 L592.8,9.8 L595,15 L596.8,14.2 L594.6,9.2 L598,8.6 Z" fill="#4a4a4a"/>
<g fill="#4a4a4a" shape-rendering="crispEdges"><rect x="615" y="8" width="6.6" height="1"/><rect x="623.4" y="8" width="6.6" height="1"/><rect x="622" y="1" width="1" height="6.2"/><rect x="622" y="9.8" width="1" height="6.2"/></g>
<rect x="639" y="0" width="1" height="18" fill="#a0a0a0" shape-rendering="crispEdges"/>
<rect x="656" y="2" width="1.2" height="13" fill="#4a4a4a"/>
<rect x="679" y="7.8" width="12" height="1.2" fill="#4a4a4a"/>
<line x1="707" y1="14.8" x2="718.9" y2="2.8" stroke="#4a4a4a" stroke-width="1.1"/>
<g stroke="#4a4a4a" stroke-width="1" fill="none"><line x1="732.8" y1="9.8" x2="741.4" y2="2"/><line x1="737.6" y1="14.8" x2="747.2" y2="6.2"/><line x1="735.2" y1="8" x2="735.2" y2="13.6"/><line x1="738.1" y1="6" x2="738.1" y2="11.8"/><line x1="741.2" y1="4.6" x2="741.2" y2="10.2"/><line x1="745" y1="0" x2="745" y2="6.8"/><line x1="734" y1="11.6" x2="736.4" y2="11.6"/><line x1="737" y1="9.6" x2="739.4" y2="9.6"/><line x1="740" y1="7.4" x2="742.4" y2="7.4"/><line x1="743.8" y1="5.6" x2="746.4" y2="5.6"/></g>
<path d="M744.2,12.3 L748,12.3 L748,13.3 L745.4,13.3 L745.4,14 L747.6,14 L747.6,15 L745.4,15 L745.4,15.8 L748,15.8 L748,16.8 L744.2,16.8 Z" fill="#333"/>
<rect x="762" y="1" width="1" height="1" fill="#555" shape-rendering="crispEdges"/>
<rect x="764" y="1" width="1" height="1" fill="#555" shape-rendering="crispEdges"/>
<rect x="766" y="1" width="1" height="1" fill="#555" shape-rendering="crispEdges"/>
<rect x="768" y="1" width="1" height="1" fill="#555" shape-rendering="crispEdges"/>
<rect x="770" y="1" width="1" height="1" fill="#555" shape-rendering="crispEdges"/>
<rect x="772" y="1" width="1" height="1" fill="#555" shape-rendering="crispEdges"/>
<rect x="774" y="1" width="1" height="1" fill="#555" shape-rendering="crispEdges"/>
<rect x="762" y="4" width="1" height="1" fill="#555" shape-rendering="crispEdges"/>
<rect x="764" y="4" width="1" height="1" fill="#555" shape-rendering="crispEdges"/>
<rect x="766" y="4" width="1" height="1" fill="#555" shape-rendering="crispEdges"/>
<rect x="768" y="4" width="1" height="1" fill="#555" shape-rendering="crispEdges"/>
<rect x="770" y="4" width="1" height="1" fill="#555" shape-rendering="crispEdges"/>
<rect x="772" y="4" width="1" height="1" fill="#555" shape-rendering="crispEdges"/>
<rect x="774" y="4" width="1" height="1" fill="#555" shape-rendering="crispEdges"/>
<rect x="762" y="8" width="1" height="1" fill="#555" shape-rendering="crispEdges"/>
<rect x="764" y="8" width="1" height="1" fill="#555" shape-rendering="crispEdges"/>
<rect x="766" y="8" width="1" height="1" fill="#555" shape-rendering="crispEdges"/>
<rect x="768" y="8" width="1" height="1" fill="#555" shape-rendering="crispEdges"/>
<rect x="770" y="8" width="1" height="1" fill="#555" shape-rendering="crispEdges"/>
<rect x="772" y="8" width="1" height="1" fill="#555" shape-rendering="crispEdges"/>
<rect x="774" y="8" width="1" height="1" fill="#555" shape-rendering="crispEdges"/>
<rect x="762" y="12" width="1" height="1" fill="#555" shape-rendering="crispEdges"/>
<rect x="764" y="12" width="1" height="1" fill="#555" shape-rendering="crispEdges"/>
<rect x="766" y="12" width="1" height="1" fill="#555" shape-rendering="crispEdges"/>
<rect x="768" y="12" width="1" height="1" fill="#555" shape-rendering="crispEdges"/>
<rect x="770" y="12" width="1" height="1" fill="#555" shape-rendering="crispEdges"/>
<path d="M771.8,12.3 L775.4,12.3 L775.4,13.3 L773,13.3 L773,14.2 L775,14.2 L775,15.2 L773,15.2 L773,16.8 L771.8,16.8 Z" fill="#333"/>
<text x="792.2" y="12.9" font-size="12.4" fill="#555" style="font-family:'Liberation Sans',sans-serif">A</text>
<rect x="819" y="2" width="1" height="1" fill="#555" shape-rendering="crispEdges"/><rect x="819" y="14" width="1" height="1" fill="#555" shape-rendering="crispEdges"/>
<rect x="821" y="2" width="1" height="1" fill="#555" shape-rendering="crispEdges"/><rect x="821" y="14" width="1" height="1" fill="#555" shape-rendering="crispEdges"/>
<rect x="823" y="2" width="1" height="1" fill="#555" shape-rendering="crispEdges"/><rect x="823" y="14" width="1" height="1" fill="#555" shape-rendering="crispEdges"/>
<rect x="825" y="2" width="1" height="1" fill="#555" shape-rendering="crispEdges"/><rect x="825" y="14" width="1" height="1" fill="#555" shape-rendering="crispEdges"/>
<rect x="827" y="2" width="1" height="1" fill="#555" shape-rendering="crispEdges"/><rect x="827" y="14" width="1" height="1" fill="#555" shape-rendering="crispEdges"/>
<rect x="829" y="2" width="1" height="1" fill="#555" shape-rendering="crispEdges"/><rect x="829" y="14" width="1" height="1" fill="#555" shape-rendering="crispEdges"/>
<rect x="819" y="2" width="1" height="1" fill="#555" shape-rendering="crispEdges"/><rect x="830" y="2" width="1" height="1" fill="#555" shape-rendering="crispEdges"/>
<rect x="819" y="4" width="1" height="1" fill="#555" shape-rendering="crispEdges"/><rect x="830" y="4" width="1" height="1" fill="#555" shape-rendering="crispEdges"/>
<rect x="819" y="6" width="1" height="1" fill="#555" shape-rendering="crispEdges"/><rect x="830" y="6" width="1" height="1" fill="#555" shape-rendering="crispEdges"/>
<rect x="819" y="8" width="1" height="1" fill="#555" shape-rendering="crispEdges"/><rect x="830" y="8" width="1" height="1" fill="#555" shape-rendering="crispEdges"/>
<rect x="819" y="10" width="1" height="1" fill="#555" shape-rendering="crispEdges"/><rect x="830" y="10" width="1" height="1" fill="#555" shape-rendering="crispEdges"/>
<rect x="819" y="12" width="1" height="1" fill="#555" shape-rendering="crispEdges"/><rect x="830" y="12" width="1" height="1" fill="#555" shape-rendering="crispEdges"/>
<rect x="819" y="14" width="1" height="1" fill="#555" shape-rendering="crispEdges"/><rect x="830" y="14" width="1" height="1" fill="#555" shape-rendering="crispEdges"/>
<path d="M821.4,5.2 L829,5.2 L829,6.4 L825.9,6.4 L825.9,12.6 L824.5,12.6 L824.5,6.4 L821.4,6.4 Z" fill="#555"/>
<path d="M846,5.8 L849.4,2.2 L852.8,5.8 L851,6.6 L847.8,6.6 Z" fill="#4a4a4a"/><path d="M848.2,9 L850.2,11 L854.6,6.2" fill="none" stroke="#4a4a4a" stroke-width="1.2"/><path d="M853.4,11.4 L856.8,10.4 L860,11.4 L856.8,15 Z" fill="#4a4a4a"/>
<path d="M866.9,7.2 L872.3,7.2 L869.6,10.2 Z" fill="#000"/>
<rect x="878" y="0" width="1" height="20" fill="#a0a0a0" shape-rendering="crispEdges"/><rect x="879" y="0" width="1" height="20" fill="#fff" shape-rendering="crispEdges"/>
<rect x="882" y="0" width="3" height="1" fill="#a6a6a6" shape-rendering="crispEdges"/>
<rect x="882" y="2" width="3" height="1" fill="#a6a6a6" shape-rendering="crispEdges"/>
<rect x="882" y="4" width="3" height="1" fill="#a6a6a6" shape-rendering="crispEdges"/>
<rect x="882" y="6" width="3" height="1" fill="#a6a6a6" shape-rendering="crispEdges"/>
<rect x="882" y="8" width="3" height="1" fill="#a6a6a6" shape-rendering="crispEdges"/>
<rect x="882" y="10" width="3" height="1" fill="#a6a6a6" shape-rendering="crispEdges"/>
<rect x="882" y="12" width="3" height="1" fill="#a6a6a6" shape-rendering="crispEdges"/>
<rect x="882" y="14" width="3" height="1" fill="#a6a6a6" shape-rendering="crispEdges"/>
<rect x="882" y="16" width="3" height="1" fill="#a6a6a6" shape-rendering="crispEdges"/>
<rect x="1028" y="0" width="1" height="18" fill="#a0a0a0" shape-rendering="crispEdges"/>
<rect x="1029.5" y="0" width="23.5" height="18" fill="url(#chk)" shape-rendering="crispEdges"/>
<text x="893.0" y="11.8" font-size="9.6" fill="#444" style="font-family:'Liberation Sans',sans-serif">M1</text>
<text x="921.0" y="11.8" font-size="9.6" fill="#444" style="font-family:'Liberation Sans',sans-serif">M5</text>
<text x="947.0" y="11.8" font-size="9.6" fill="#444" style="font-family:'Liberation Sans',sans-serif">M15</text>
<text x="975.0" y="11.8" font-size="9.6" fill="#444" style="font-family:'Liberation Sans',sans-serif">M30</text>
<text x="1005.9" y="11.8" font-size="9.6" fill="#444" style="font-family:'Liberation Sans',sans-serif">H1</text>
<text x="1032.9" y="11.8" font-size="9.6" fill="#444" style="font-family:'Liberation Sans',sans-serif">H4</text>
<text x="1061.9" y="11.8" font-size="9.6" fill="#444" style="font-family:'Liberation Sans',sans-serif">D1</text>
<text x="1089.6" y="11.8" font-size="9.6" fill="#444" style="font-family:'Liberation Sans',sans-serif">W1</text>
<text x="1116.2" y="11.8" font-size="9.6" fill="#444" style="font-family:'Liberation Sans',sans-serif">MN</text>
<rect x="1139" y="0" width="1" height="20" fill="#a0a0a0" shape-rendering="crispEdges"/>
<line x1="1606.6" y1="8.8" x2="1602.2" y2="13" stroke="#2a5fd0" stroke-width="2.6"/><circle cx="1609.7" cy="5.6" r="3.8" fill="#f4f6ff" stroke="#2a62d8" stroke-width="1.3"/>
<path d="M1626.4,10.4 C1626.4,6.6 1637.4,6.6 1637.4,10.4 C1637.4,13.4 1633,14.2 1631.2,14 L1629.4,16.4 L1629.4,13.8 C1627.6,13.2 1626.4,12 1626.4,10.4 Z" fill="#e2e4ec" stroke="#b8bac4" stroke-width="0.7"/>
<circle cx="1640.5" cy="5.8" r="8.2" fill="url(#redb)"/>
<path d="M1637.4,3.4 L1640,1.2 L1641.2,1.2 L1641.2,9 L1642.8,9 L1642.8,10 L1637.6,10 L1637.6,9 L1639.6,9 L1639.6,3 L1637.4,4.6 Z" fill="#fff"/>
</g>
</svg></body></html>
